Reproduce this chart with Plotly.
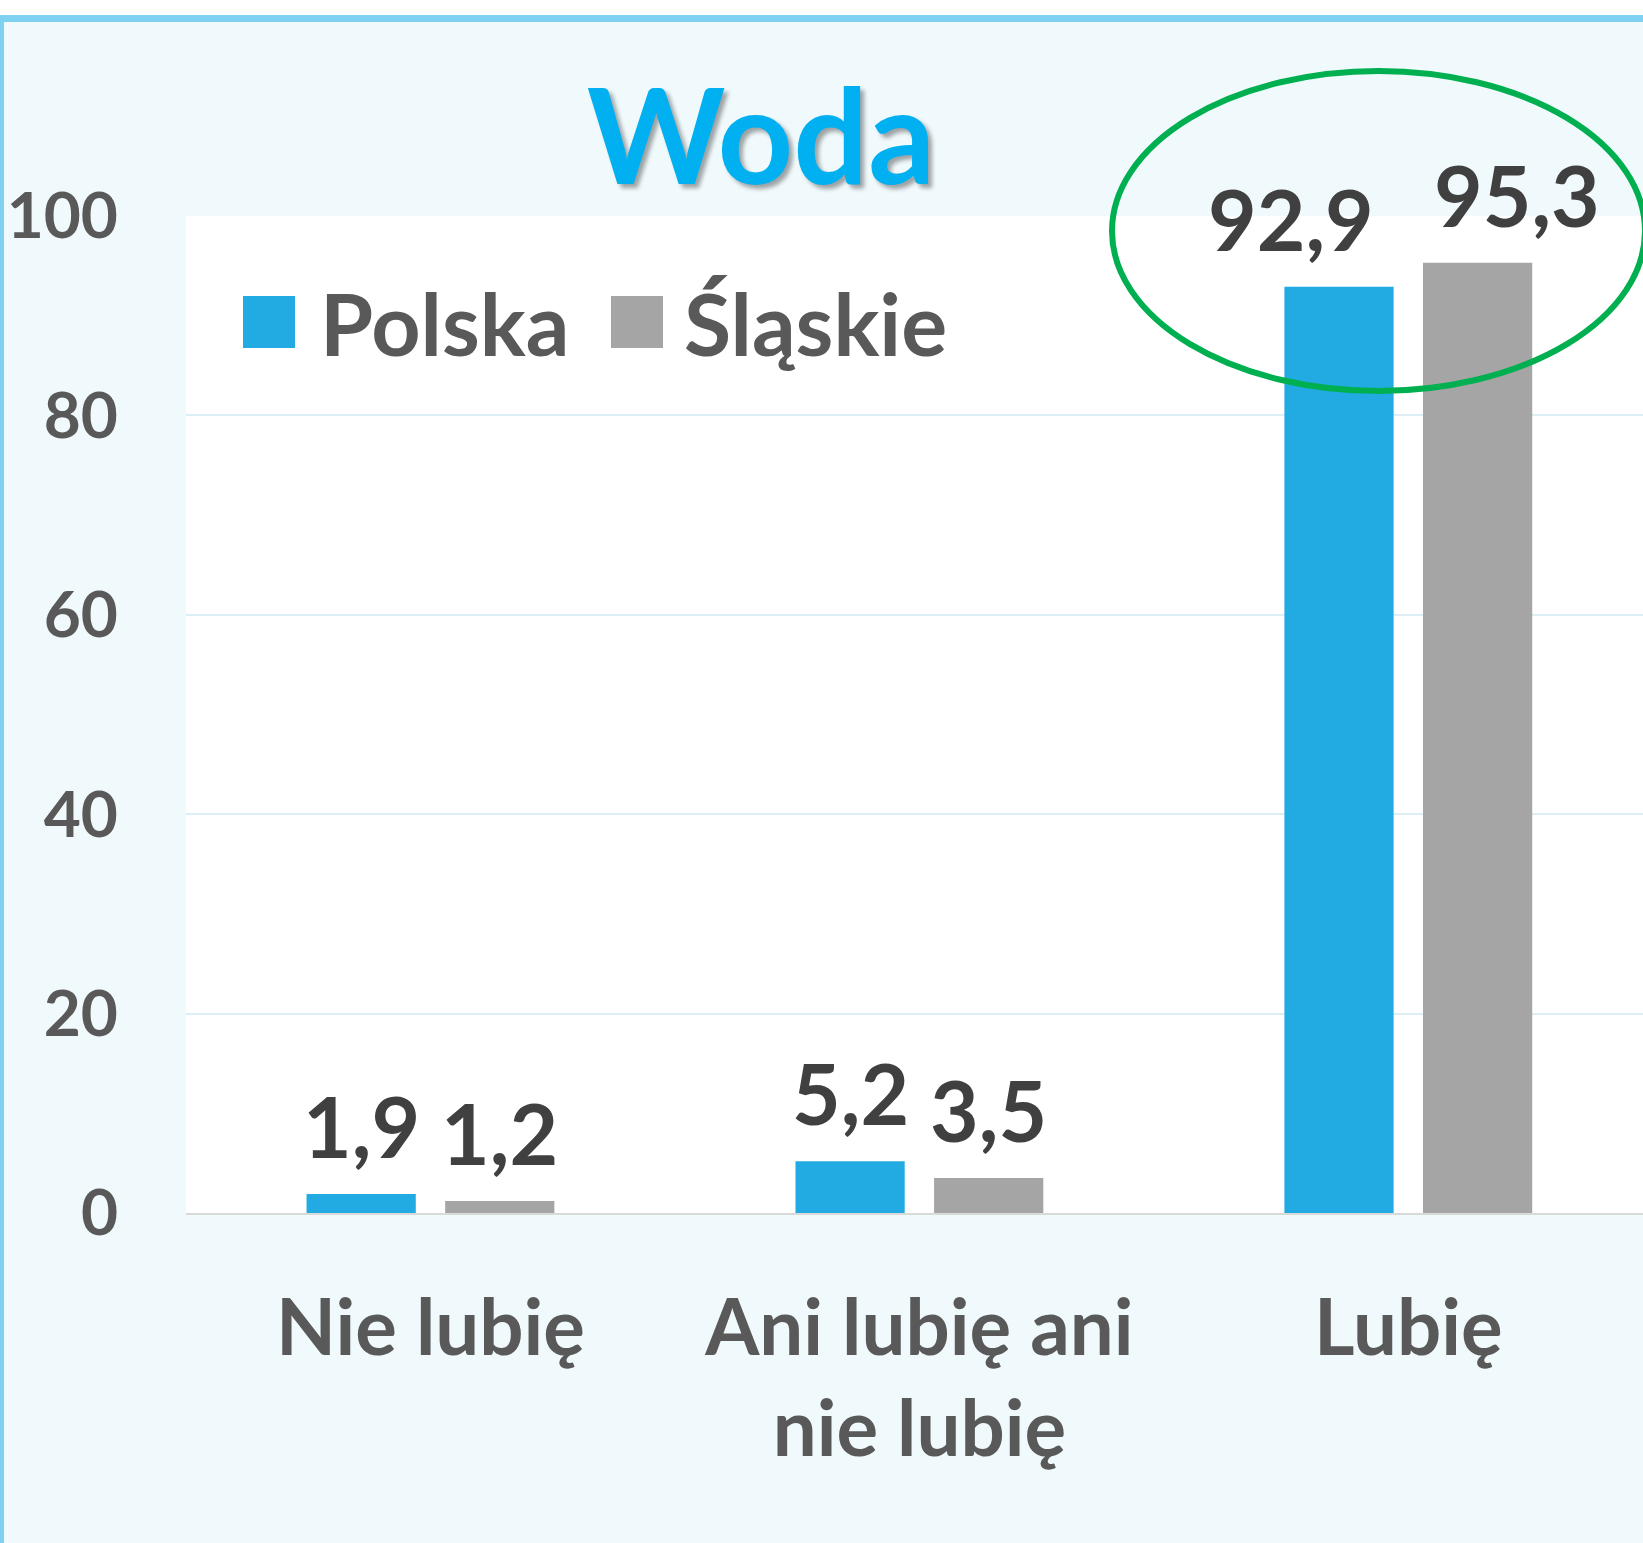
import plotly.graph_objects as go

# ---- data ----
categories = ["Nie lubię", "Ani lubię ani<br>nie lubię", "Lubię"]
series_names = ["Polska", "Śląskie"]
polska = [1.9, 5.2, 92.9]
slaskie = [1.2, 3.5, 95.3]
y_ticks = [0, 20, 40, 60, 80, 100]
title_text = "Woda"

# ---- styles ----
W, H = 1643, 1543
PLOT_L, PLOT_T, PLOT_B = 186, 216, 1213  # page pixel positions
ML, MR, MT = PLOT_L, 0, PLOT_T
MB = H - PLOT_B
PW, PH = W - ML - MR, H - MT - MB
FONT = "Lato"
BLUE = "#21ABE2"
GREY = "#A5A5A5"
BG = "#F0F9FC"
BORDER = "#7FD1F1"
LABEL_C = "#404040"
TEXT_C = "#595959"


def px2x(px):
    return (px - PLOT_L) / PW


def py2y(py):
    return (PLOT_B - py) / PH


def fmt(v):
    return f"{v:.1f}".replace(".", ",")


fig = go.Figure()
colors = [BLUE, GREY]
for name, vals, col in zip(series_names, [polska, slaskie], colors):
    fig.add_trace(go.Bar(x=categories, y=vals, name=name, marker=dict(color=col, line=dict(width=0)),
                         showlegend=False, hoverinfo="skip"))

# value labels (annotations, nudged for the last group as in the original)
bar_shift = 69
nudges = {0: [0, 0, -48], 1: [0, 0, 40]}
for si, vals in enumerate([polska, slaskie]):
    for ci, v in enumerate(vals):
        fig.add_annotation(x=categories[ci], y=v, xref="x", yref="y", text=fmt(v), showarrow=False,
                           xanchor="center", yanchor="bottom",
                           xshift=(-bar_shift if si == 0 else bar_shift) + nudges[si][ci], yshift=16,
                           font=dict(family=FONT, size=84, color=LABEL_C, weight="bold"))

# manual legend
leg_items = [(series_names[0], BLUE, 243, 322), (series_names[1], GREY, 611, 686)]
for name, col, sx, tx in leg_items:
    fig.add_shape(type="rect", xref="paper", yref="paper", x0=px2x(sx), x1=px2x(sx + 52),
                  y0=py2y(348), y1=py2y(296), fillcolor=col, line=dict(width=0))
    fig.add_annotation(xref="paper", yref="paper", x=px2x(tx - 4), y=py2y(322), text=name, showarrow=False,
                       xanchor="left", yanchor="middle",
                       font=dict(family=FONT, size=86, color=TEXT_C, weight="bold"))

# background frame
fig.add_shape(type="rect", xref="paper", yref="paper", x0=px2x(0), x1=px2x(W + 10), y0=py2y(15), y1=py2y(0),
              fillcolor="white", line=dict(width=0), layer="below")
fig.add_shape(type="rect", xref="paper", yref="paper", x0=px2x(0), x1=px2x(W + 10), y0=py2y(22), y1=py2y(15),
              fillcolor=BORDER, line=dict(width=0), layer="below")
fig.add_shape(type="rect", xref="paper", yref="paper", x0=px2x(0), x1=px2x(4), y0=py2y(H + 10), y1=py2y(15),
              fillcolor=BORDER, line=dict(width=0), layer="below")

# highlight ellipse
fig.add_shape(type="circle", xref="paper", yref="paper", x0=px2x(1112), x1=px2x(1645),
              y0=py2y(391), y1=py2y(71), line=dict(color="#00B050", width=6), fillcolor="rgba(0,0,0,0)")

fig.update_layout(
    width=W, height=H,
    margin=dict(l=ML, r=MR, t=MT, b=MB, pad=0),
    paper_bgcolor=BG, plot_bgcolor="white",
    barmode="group", bargap=0.433, bargroupgap=0.212,
    title=dict(text=title_text, xref="container", yref="container", x=761 / W, y=1 - 138 / H,
               xanchor="center", yanchor="middle",
               font=dict(family=FONT, size=132, color="#00B0F0", weight="bold",
                         shadow="4px 4px 4px rgba(0,0,0,0.35)")),
    xaxis=dict(range=[-0.5, 2.48], showgrid=False, showline=True, linecolor="#D9D9D9", linewidth=2,
               ticks="", ticklabelstandoff=46,
               tickfont=dict(family=FONT, size=78, color=TEXT_C, weight="bold")),
    yaxis=dict(range=[0, 100], tickvals=y_ticks, showgrid=True, gridcolor="#DDEFF6", gridwidth=2,
               zeroline=False, showline=False, ticks="", ticklabelstandoff=67,
               tickfont=dict(family=FONT, size=64, color=TEXT_C, weight="bold")),
)

fig.write_html("out.html", config={"displayModeBar": False},
               post_script="document.body.style.margin='0';")
